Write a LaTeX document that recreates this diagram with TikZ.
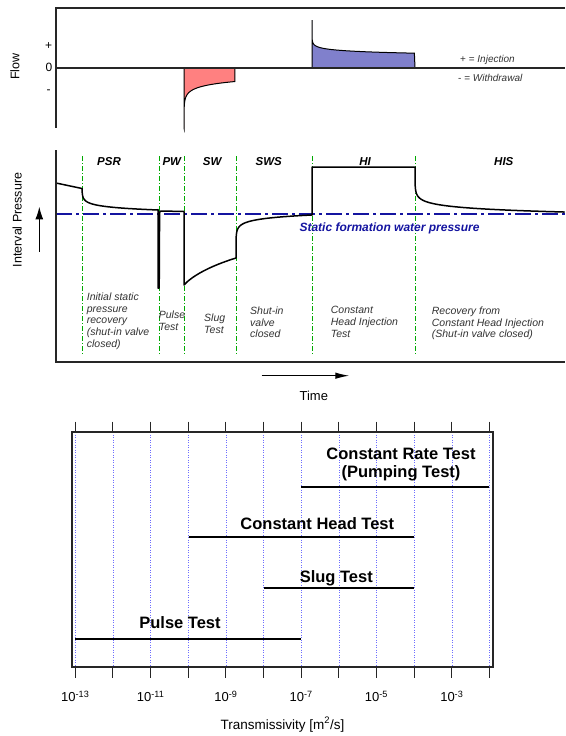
\documentclass[tikz,border=0pt]{standalone}
\usepackage{fontspec}
\setmainfont{Liberation Sans}
\usetikzlibrary{arrows.meta}
\definecolor{redfill}{RGB}{255,128,128}
\definecolor{bluefill}{RGB}{128,128,204}
\definecolor{phasegreen}{RGB}{0,170,0}
\definecolor{staticblue}{RGB}{20,20,160}
\definecolor{gridblue}{RGB}{110,110,255}
\definecolor{descgray}{RGB}{50,50,50}
\begin{document}
\begin{tikzpicture}[x=1pt,y=-1pt,
  axislbl/.style={font=\fontsize{12.5}{14}\selectfont, inner sep=0},
  signlbl/.style={font=\fontsize{12}{14}\selectfont, inner sep=0, anchor=base},
  legendlbl/.style={font=\fontsize{10}{12}\selectfont, text=descgray, inner sep=0, anchor=west},
  tag/.style={font=\fontsize{11.5}{13}\selectfont\bfseries\itshape, inner sep=0},
  desc/.style={font=\fontsize{10.5}{11.8}\selectfont\itshape, text=descgray, align=left, anchor=north west, inner sep=0},
  bartext/.style={font=\fontsize{16.5}{18.5}\selectfont\bfseries, inner sep=0, align=center},
  ticklbl/.style={font=\fontsize{13}{15}\selectfont, inner sep=0, anchor=base},
  frameline/.style={line width=1.1pt, draw=black!85},
  phase/.style={draw=phasegreen, line width=0.8pt, dash pattern=on 5pt off 2pt on 1pt off 2pt},
  staticline/.style={draw=staticblue, line width=1.8pt, dash pattern=on 16pt off 4pt on 3pt off 4pt},
  pcurve/.style={line width=1.5pt, line join=round},
  gridln/.style={draw=gridblue, line width=0.6pt, dash pattern=on 1pt off 1.5pt},
  tickln/.style={line width=1pt, draw=black!85},
  barline/.style={line width=2.7pt},
  arrowln/.style={line width=1.2pt}
]
\useasboundingbox (0,0) rectangle (565,736);

% ---------------- Flow panel ----------------
\fill[redfill] (184,68) -- (184,128) -- plot[domain=-5.96:3.93, samples=90, variable=\s] ({184+exp(\s)},{100-4.7*\s}) -- (235,68) -- cycle;
\fill[bluefill] (312,68) -- (312,20) -- plot[domain=-10.4:4.63, samples=110, variable=\s] ({312+exp(\s)},{43+2.2*\s}) -- (415,68) -- cycle;
\draw[line width=1pt] (184,68) -- (184,128) -- plot[domain=-5.96:3.93, samples=90, variable=\s] ({184+exp(\s)},{100-4.7*\s}) -- (235,68);
\draw[line width=1pt] (312,68) -- (312,20) -- plot[domain=-10.4:4.63, samples=110, variable=\s] ({312+exp(\s)},{43+2.2*\s}) -- (415,68);
\draw[frameline] (565,8) -- (56,8) -- (56,128);
\draw[frameline] (56,68) -- (565,68);

\node[axislbl, rotate=90] (flowlbl) at (15,66.7) {Flow};
\node[signlbl] (plus) at (48.7,49.7) {+};
\node[signlbl] (zero) at (49,71.7) {0};
\node[signlbl] (minus) at (48.7,93.5) {-};
\node[legendlbl] (inj) at (460,60) {+ = \textit{Injection}};
\node[legendlbl] (wdr) at (458,78.3) {- = \textit{Withdrawal}};

% ---------------- Pressure panel ----------------
\foreach \px in {82,159,184,236,312,415} {
  \draw[phase] (\px,156) -- (\px,354);
}
\draw[staticline] (56,214) -- (565,214);
\draw[pcurve] (56,183) -- (82,188.5)
  -- plot[domain=-2.67:4.33, samples=60, variable=\s] ({82+exp(\s)},{197+3*\s})
  -- (158,209.5) -- (158,288) -- (159.2,288) -- (159.6,212) -- (161,211) -- (184,211.5)
  -- (184,285) .. controls (192,276) and (210,266) .. (236,258)
  -- plot[domain=-7.3:4.33, samples=80, variable=\s] ({236+exp(\s)},{231-3.7*\s})
  -- (312,215) -- (312,167) -- (415,167)
  -- plot[domain=-6.25:5.01, samples=80, variable=\s] ({415+exp(\s)},{192+4*\s});
\draw[frameline] (56,150) -- (56,362) -- (565,362);

\node[tag] (psr) at (109,161.2) {PSR};
\node[tag] (pw) at (171.8,161.2) {PW};
\node[tag] (sw) at (212.2,161.2) {SW};
\node[tag] (sws) at (268.8,161.2) {SWS};
\node[tag] (hi) at (365,161.2) {HI};
\node[tag] (his) at (503.8,161.2) {HIS};
\node[tag, font=\fontsize{12}{14}\selectfont\bfseries\itshape, text=staticblue, anchor=west] (static) at (299.3,228) {Static formation water pressure};

\node[desc] (d1) at (86.7,292.5) {Initial static\\pressure\\recovery\\(shut-in valve\\closed)};
\node[desc] (d2) at (158.7,310.5) {Pulse\\Test};
\node[desc] (d3) at (204,313.5) {Slug\\Test};
\node[desc] (d4) at (250,306.5) {Shut-in\\valve\\closed};
\node[desc] (d5) at (330.7,306) {Constant\\Head Injection\\Test};
\node[desc] (d6) at (431.7,306.5) {Recovery from\\Constant Head Injection\\(Shut-in valve closed)};

\node[axislbl, rotate=90] (plbl) at (17.2,220) {Interval Pressure};
\coordinate (upA) at (39.3,251.7);
\coordinate (upB) at (39.3,206.7);
\draw[arrowln, -{Latex[length=12.7pt,width=8pt]}] (upA) -- (upB);
\coordinate (tA) at (261.7,375.7);
\coordinate (tB) at (349.3,375.7);
\draw[arrowln, -{Latex[length=14pt,width=6.5pt]}] (tA) -- (tB);
\node[axislbl, font=\fontsize{13}{15}\selectfont, anchor=base] (timelbl) at (313.8,400) {Time};

% ---------------- Transmissivity panel ----------------
\foreach \i in {0,...,11} {
  \pgfmathsetmacro{\tx}{75.3+37.65*\i}
  \draw[gridln] (\tx,432) -- (\tx,667);
  \draw[tickln] (\tx,421.5) -- (\tx,432);
  \draw[tickln] (\tx,667) -- (\tx,678);
}
\draw[frameline] (72,432) rectangle (493,667);

\draw[barline] (301,487) -- (489.4,487);
\draw[barline] (188.6,537) -- (414.1,537);
\draw[barline] (263.9,588) -- (414.1,588);
\draw[barline] (75.3,639) -- (301.2,639);

\node[bartext, anchor=north] (crt) at (401,447.5) {Constant Rate Test\\(Pumping Test)};
\node[bartext, anchor=base] (cht) at (317.3,529.3) {Constant Head Test};
\node[bartext, anchor=base] (slt) at (336.3,582.3) {Slug Test};
\node[bartext, anchor=base] (plt) at (180,628.3) {Pulse Test};

\node[ticklbl] (t13) at (75.3,701.7) {10\textsuperscript{-13}};
\node[ticklbl] (t11) at (150.6,701.7) {10\textsuperscript{-11}};
\node[ticklbl] (t9) at (225.9,701.7) {10\textsuperscript{-9}};
\node[ticklbl] (t7) at (301.2,701.7) {10\textsuperscript{-7}};
\node[ticklbl] (t5) at (376.5,701.7) {10\textsuperscript{-5}};
\node[ticklbl] (t3) at (451.8,701.7) {10\textsuperscript{-3}};
\node[ticklbl, font=\fontsize{13.5}{15}\selectfont] (translbl) at (282.5,729) {Transmissivity [m\textsuperscript{2}/s]};
\end{tikzpicture}
\end{document}
